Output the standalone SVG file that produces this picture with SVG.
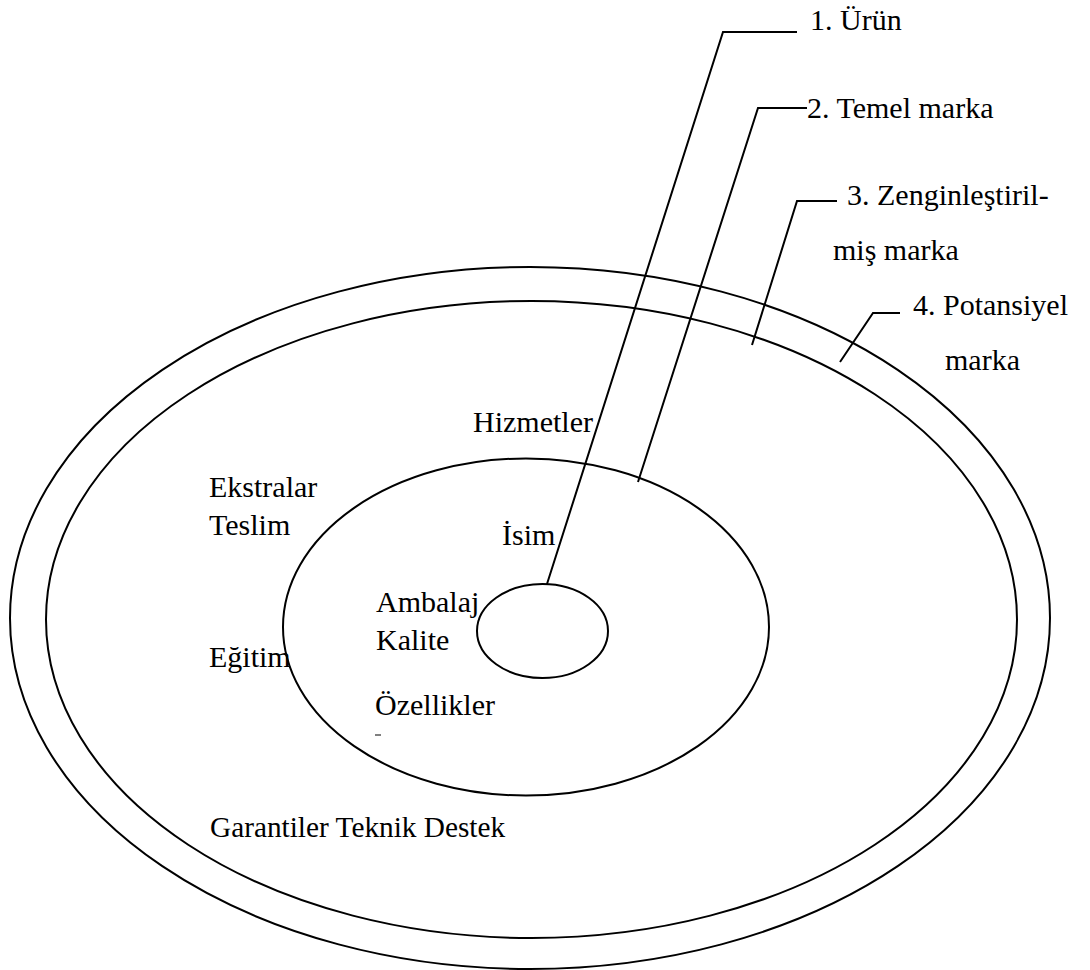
<svg xmlns="http://www.w3.org/2000/svg" width="1090" height="970" viewBox="0 0 1090 970">
<style>
.ring{fill:none;stroke:#000;stroke-width:2}
.lead{fill:none;stroke:#000;stroke-width:2}
text{font-family:"Liberation Serif","Times New Roman",serif;font-size:30px;fill:#000}
</style>
<rect width="1090" height="970" fill="#fff"/>
<g id="potansiyel-marka">
<ellipse class="ring" cx="530" cy="618" rx="520" ry="351"/>
</g>
<g id="zenginlestirilmis-marka">
<ellipse class="ring" cx="531.5" cy="619.5" rx="485.5" ry="318.5"/>
</g>
<g id="temel-marka">
<ellipse class="ring" cx="526" cy="627" rx="243" ry="168.5"/>
</g>
<g id="urun">
<ellipse class="ring" cx="542.5" cy="631" rx="65.5" ry="47"/>
</g>
<g id="connectors">
<polyline class="lead" points="547,584 723,32 797,32"/>
<polyline class="lead" points="638,482 758,108 807,108"/>
<polyline class="lead" points="752,345 797,201 837,201"/>
<polyline class="lead" points="840,362 873,313 900,313"/>
</g>
<g id="labels">
<text x="810" y="30">1. Ürün</text>
<text x="807" y="118">2. Temel marka</text>
<text x="847" y="205">3. Zenginleştiril-</text>
<text x="833" y="260">miş marka</text>
<text x="913" y="315">4. Potansiyel</text>
<text x="945" y="370">marka</text>
<text x="473" y="432">Hizmetler</text>
<text x="209" y="497">Ekstralar</text>
<text x="209" y="535">Teslim</text>
<text x="502" y="545">İsim</text>
<text x="376" y="612">Ambalaj</text>
<text x="376" y="650">Kalite</text>
<text x="209" y="667">Eğitim</text>
<text x="375" y="715">Özellikler</text>
<text x="210" y="837" style="font-size:29.3px">Garantiler Teknik Destek</text>
</g>
<line x1="375" y1="735" x2="381" y2="735" stroke="#000" stroke-width="1"/>
</svg>
